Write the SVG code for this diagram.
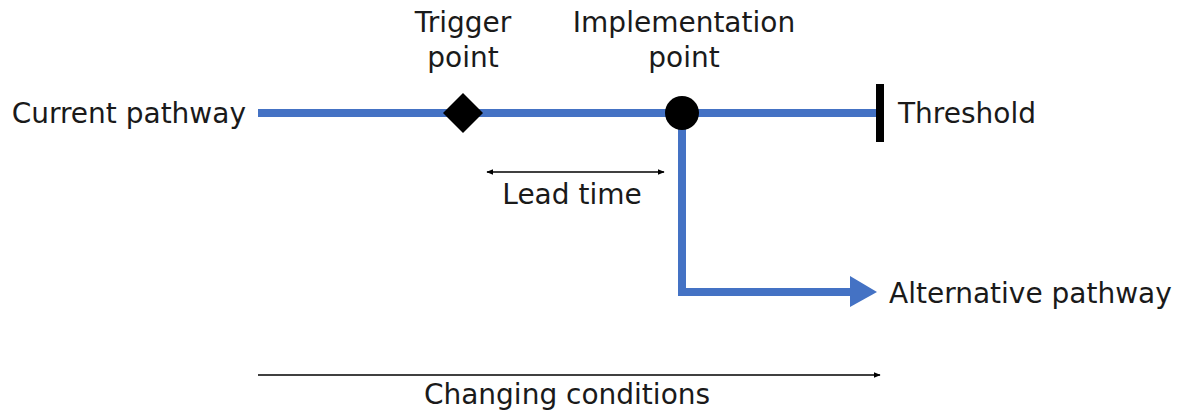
<svg xmlns="http://www.w3.org/2000/svg" width="1183" height="412" viewBox="0 0 1183 412">
<style>
text{font-family:"DejaVu Sans",Verdana,sans-serif;font-size:28px;fill:#1a1a1a}
.mid{text-anchor:middle}
.path{fill:none;stroke:#4472C4;stroke-width:8}
.thin{fill:none;stroke:#000;stroke-width:1.5}
</style>
<defs>
<marker id="ah" viewBox="0 0 10 10" refX="9" refY="5" markerWidth="7" markerHeight="7" orient="auto-start-reverse" markerUnits="userSpaceOnUse">
<path d="M0,1 L10,5 L0,9 Z" fill="#000"/>
</marker>
</defs>
<g id="connectors">
<line class="path" x1="258" y1="113" x2="880" y2="113"/>
<polyline class="path" points="682,113 682,292 852,292"/>
<polygon points="850,276 877,292 850,307" fill="#4472C4"/>
<line class="thin" x1="487" y1="172" x2="664" y2="172" marker-start="url(#ah)" marker-end="url(#ah)"/>
<line class="thin" x1="258" y1="375" x2="880" y2="375" marker-end="url(#ah)"/>
</g>
<g id="current"><text x="246" y="123" text-anchor="end">Current pathway</text></g>
<g id="trigger">
<polygon points="463,93 483,113 463,133 443,113" fill="#000"/>
<text class="mid" x="463" y="32">Trigger</text>
<text class="mid" x="463" y="67">point</text>
</g>
<g id="implementation">
<circle cx="682" cy="113" r="17" fill="#000"/>
<text class="mid" x="684" y="32">Implementation</text>
<text class="mid" x="684" y="67">point</text>
</g>
<g id="threshold">
<rect x="876" y="84" width="8" height="58" fill="#000"/>
<text x="898" y="123">Threshold</text>
</g>
<g id="leadtime"><text class="mid" x="572" y="204">Lead time</text></g>
<g id="alternative"><text x="889" y="303">Alternative pathway</text></g>
<g id="changing"><text class="mid" x="567" y="404">Changing conditions</text></g>
</svg>
